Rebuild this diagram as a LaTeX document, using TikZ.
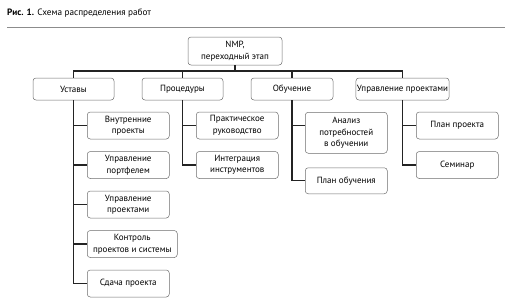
\documentclass[tikz,border=0pt]{standalone}
\usepackage{fontspec}
\setmainfont{PT Sans}
\usetikzlibrary{positioning}
\definecolor{boxgray}{RGB}{110,110,110}
\definecolor{linegray}{RGB}{35,35,35}
\definecolor{rulegray}{RGB}{140,140,140}
\tikzset{
  orgbox/.style={rounded corners=3pt, draw=boxgray, line width=0.5pt, fill=white, align=center,
    font=\fontsize{9}{11.5}\selectfont, inner sep=1pt, minimum width=82pt, minimum height=27pt},
  topbox/.style={orgbox, minimum width=94pt, minimum height=28pt},
  headbox/.style={orgbox, minimum height=22pt},
  conn/.style={draw=linegray, line width=1.2pt},
}

\begin{document}
\begin{tikzpicture}[x=1pt, y=-1pt, node distance=12pt]
  \useasboundingbox (0,0) rectangle (512,301);
  % caption
  \node[anchor=west, font=\fontsize{9.2}{11}\selectfont, inner sep=0pt] (caption) at (7,13)
    {\textbf{Рис. 1.} Схема распределения работ};
  \draw[rulegray, line width=1.5pt] (7,27.5) -- (505,27.5);

  % top level
  \node[topbox] (root) at (235,51) {NMP,\\переходный этап};
  \node[headbox, minimum width=81pt] (ust) at (73.5,89) {Уставы};
  \node[headbox, minimum width=81pt] (proc) at (182.5,89) {Процедуры};
  \node[headbox] (obuch) at (292,89) {Обучение};
  \node[headbox, minimum width=85pt] (upr) at (402.5,89) {Управление проектами};

  % Уставы
  \node[orgbox, anchor=west] (vnutr) at (87,125.5) {Внутренние\\проекты};
  \node[orgbox, below=of vnutr] (portf) {Управление\\портфелем};
  \node[orgbox, below=of portf] (uprpr) {Управление\\проектами};
  \node[orgbox, minimum width=90pt, below=of uprpr.south west, anchor=north west] (kontr) {Контроль\\проектов и системы};
  \node[orgbox, below=of kontr.south west, anchor=north west] (sdacha) {Сдача проекта};

  % Процедуры
  \node[orgbox, anchor=west] (prakt) at (196,125.5) {Практическое\\руководство};
  \node[orgbox, below=of prakt] (integr) {Интеграция\\инструментов};

  % Обучение
  \node[orgbox, anchor=north west, minimum height=41pt] (analiz) at (305,112) {Анализ\\потребностей\\в обучении};
  \node[orgbox, below=14pt of analiz, minimum height=26pt] (planob) {План обучения};

  % Управление проектами
  \node[orgbox, anchor=west] (planpr) at (416,125.5) {План проекта};
  \node[orgbox, below=of planpr] (seminar) {Семинар};

  % connectors
  \coordinate (bus) at (0,71);
  \draw[conn] (root.south) -- (root.south |- bus);
  \foreach \n in {ust,proc,obuch,upr}
    \draw[conn] (\n.north) |- (root.south |- bus);
  \foreach \n in {vnutr,portf,uprpr,kontr,sdacha}
    \draw[conn] (ust.south) |- (\n.west);
  \foreach \n in {prakt,integr}
    \draw[conn] (proc.south) |- (\n.west);
  \draw[conn] (obuch.south) |- (analiz.west |- prakt.west);
  \draw[conn] (obuch.south) |- (planob.west);
  \foreach \n in {planpr,seminar}
    \draw[conn] (upr.south) |- (\n.west);
\end{tikzpicture}
\end{document}
